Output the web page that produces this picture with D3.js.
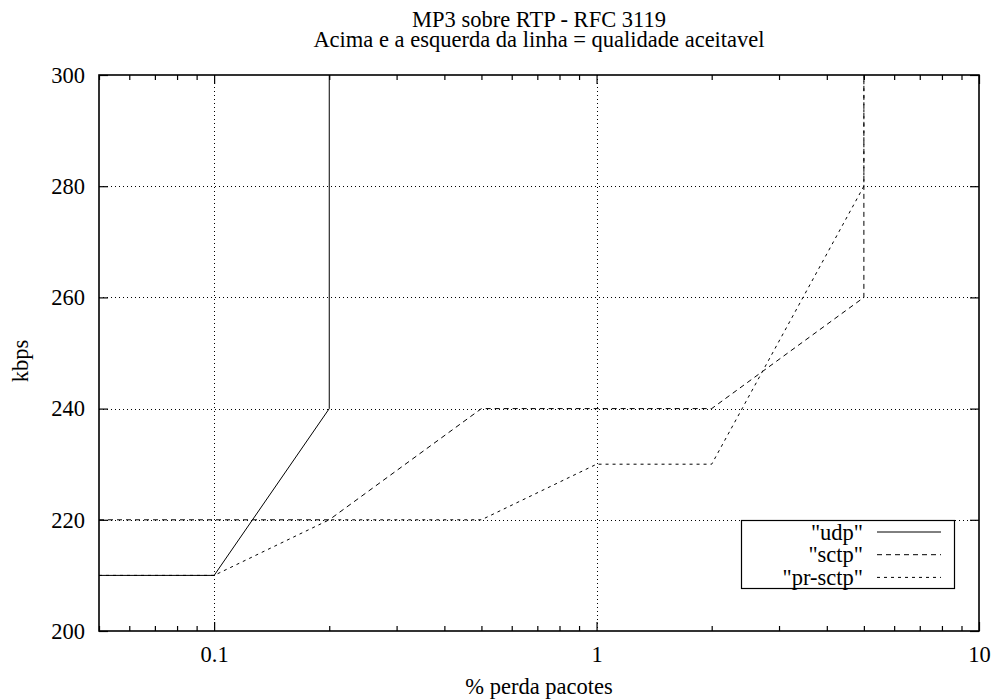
<!DOCTYPE html>
<html>
<head>
<meta charset="utf-8">
<script src="https://cdn.jsdelivr.net/npm/d3@7"></script>
<style>
  html, body { margin: 0; padding: 0; background: #fff; }
  svg { display: block; }
</style>
</head>
<body>
<svg id="chart" width="994" height="700"></svg>
<script>
// Series: packet loss (%) vs. bitrate (kbps) at the edge of acceptable quality
const udpLoss = [0.05, 0.1, 0.2, 0.2];
const udpKbps = [210, 210, 240, 300];

const sctpLoss = [0.05, 0.2, 0.5, 2, 5, 5];
const sctpKbps = [220, 220, 240, 240, 260, 300];

const prSctpLoss = [0.05, 0.1, 0.2, 0.5, 1, 2, 5, 5];
const prSctpKbps = [210, 210, 220, 220, 230, 230, 280, 300];

const seriesNames = ['"udp"', '"sctp"', '"pr-sctp"'];
const xMajorTicks = [0.1, 1, 10];
const xTickLabels = ["0.1", "1", "10"];
const yTicks = [200, 220, 240, 260, 280, 300];

const titleLines = ["MP3 sobre RTP - RFC 3119", "Acima e a esquerda da linha = qualidade aceitavel"];
const xLabel = "% perda pacotes";
const yLabel = "kbps";

const FONT = "'Liberation Serif', 'Times New Roman', serif";
const FS = "22.5px";

const svg = d3.select("#chart");
const m = { left: 99, right: 979, top: 75, bottom: 631 };

const x = d3.scaleLog().domain([0.05, 10]).range([m.left, m.right]);
const y = d3.scaleLinear().domain([200, 300]).range([m.bottom, m.top]);

const dashes = [null, "5,4", "3,4"];

function label(sel) {
  return sel.attr("font-family", FONT).style("font-family", FONT)
    .style("font-size", FS).attr("fill", "#000");
}

// minor ticks on the log axis: 2..9 of each decade inside the domain
const xMinor = [];
[0.01, 0.1, 1].forEach(dec => {
  for (let k = 2; k <= 9; k++) {
    const v = +(dec * k).toFixed(6);
    if (v >= 0.05 && v < 10) xMinor.push(v);
  }
});

// grid
const grid = svg.append("g").attr("stroke", "#000").attr("stroke-width", 1)
  .attr("stroke-dasharray", "1,3").attr("shape-rendering", "crispEdges");
xMajorTicks.filter(v => v < 10).forEach(v => {
  grid.append("line").attr("x1", Math.round(x(v)) + 0.5).attr("x2", Math.round(x(v)) + 0.5)
    .attr("y1", m.top).attr("y2", m.bottom);
});
yTicks.filter(v => v > 200 && v < 300).forEach(v => {
  grid.append("line").attr("y1", Math.round(y(v)) + 0.5).attr("y2", Math.round(y(v)) + 0.5)
    .attr("x1", m.left).attr("x2", m.right);
});

// axes (bottom/left with labels, top/right mirrored ticks)
const axisG = svg.append("g");
const axBottom = d3.axisBottom(x).tickValues(xMajorTicks).tickSize(-9)
  .tickFormat((d, i) => xTickLabels[i]).tickPadding(15);
const axTop = d3.axisTop(x).tickValues(xMajorTicks).tickSize(-9).tickFormat("");
const axLeft = d3.axisLeft(y).tickValues(yTicks).tickSize(-9).tickPadding(14);
const axRight = d3.axisRight(y).tickValues(yTicks).tickSize(-9).tickFormat("");

axisG.append("g").attr("transform", `translate(0,${m.bottom})`).call(axBottom);
axisG.append("g").attr("transform", `translate(0,${m.top})`).call(axTop);
axisG.append("g").attr("transform", `translate(${m.left},0)`).call(axLeft);
axisG.append("g").attr("transform", `translate(${m.right},0)`).call(axRight);

axisG.append("g").attr("transform", `translate(0,${m.bottom})`)
  .call(d3.axisBottom(x).tickValues(xMinor).tickSize(-5).tickFormat(""));
axisG.append("g").attr("transform", `translate(0,${m.top})`)
  .call(d3.axisTop(x).tickValues(xMinor).tickSize(-5).tickFormat(""));

axisG.selectAll(".domain").remove();
axisG.selectAll("g").attr("font-family", null).attr("font-size", null);
axisG.selectAll("line").attr("stroke", "#000").attr("stroke-width", 1.2);
label(axisG.selectAll("text"));

// frame
svg.append("rect").attr("x", m.left).attr("y", m.top)
  .attr("width", m.right - m.left).attr("height", m.bottom - m.top)
  .attr("fill", "none").attr("stroke", "#000").attr("stroke-width", 1.6);

// lines
const lineGen = d3.line().x(d => x(d[0])).y(d => y(d[1]));
const series = [
  d3.zip(udpLoss, udpKbps),
  d3.zip(sctpLoss, sctpKbps),
  d3.zip(prSctpLoss, prSctpKbps)
];
series.forEach((pts, i) => {
  svg.append("path").datum(pts).attr("d", lineGen)
    .attr("fill", "none").attr("stroke", "#000").attr("stroke-width", 1)
    .attr("stroke-dasharray", dashes[i]);
});

// legend
const lg = svg.append("g");
lg.append("rect").attr("x", 741.5).attr("y", 520.5).attr("width", 213).attr("height", 68)
  .attr("fill", "#fff").attr("stroke", "#000").attr("stroke-width", 1.2);
seriesNames.forEach((name, i) => {
  const yy = 532 + i * 22.7;
  label(lg.append("text")).attr("x", 863).attr("y", yy + 7.5)
    .attr("text-anchor", "end").text(name);
  lg.append("line").attr("x1", 877).attr("x2", 941).attr("y1", yy).attr("y2", yy)
    .attr("stroke", "#000").attr("stroke-width", 1).attr("stroke-dasharray", dashes[i]);
});

// titles
titleLines.forEach((t, i) => {
  label(svg.append("text")).attr("x", 539).attr("y", 26.5 + i * 20)
    .attr("text-anchor", "middle").text(t);
});
label(svg.append("text")).attr("x", 539).attr("y", 694)
  .attr("text-anchor", "middle").text(xLabel);
label(svg.append("text")).attr("transform", "translate(28,361) rotate(-90)")
  .attr("text-anchor", "middle").text(yLabel);
</script>
</body>
</html>
